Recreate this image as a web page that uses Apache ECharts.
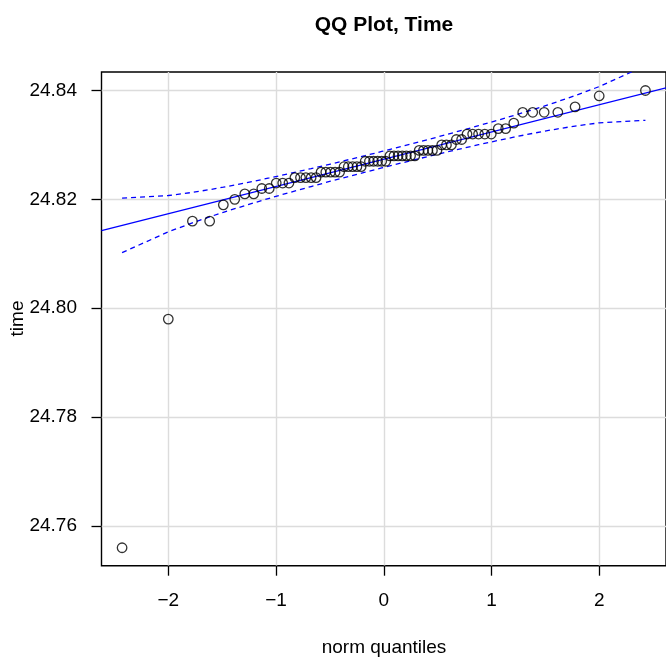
<!DOCTYPE html>
<html>
<head>
<meta charset="utf-8">
<script src="https://cdn.jsdelivr.net/npm/echarts@6/dist/echarts.min.js"></script>
<style>
  html, body { margin: 0; padding: 0; background: #fff; }
  #chart { width: 666px; height: 657px; }
</style>
</head>
<body>
<div id="chart"></div>
<script>
// Theoretical normal quantiles for the 66 sorted observations
const normQuantiles = [
  -2.429, -2.000, -1.776, -1.616, -1.489, -1.383, -1.290, -1.207, -1.132, -1.063,
  -0.998, -0.938, -0.880, -0.825, -0.773, -0.723, -0.674, -0.628, -0.582, -0.538,
  -0.494, -0.452, -0.410, -0.369, -0.329, -0.289, -0.249, -0.210, -0.172, -0.133,
  -0.095, -0.057, -0.019, 0.019, 0.057, 0.095, 0.133, 0.172, 0.210, 0.249,
  0.289, 0.329, 0.369, 0.410, 0.452, 0.494, 0.538, 0.582, 0.628, 0.674,
  0.723, 0.773, 0.825, 0.880, 0.938, 0.998, 1.063, 1.132, 1.207, 1.290,
  1.383, 1.489, 1.616, 1.776, 2.000, 2.429
];

// Sorted observed times
const times = [
  24.756, 24.798, 24.816, 24.816, 24.819, 24.820, 24.821, 24.821, 24.822, 24.822,
  24.823, 24.823, 24.823, 24.824, 24.824, 24.824, 24.824, 24.824, 24.825, 24.825,
  24.825, 24.825, 24.825, 24.826, 24.826, 24.826, 24.826, 24.826, 24.827, 24.827,
  24.827, 24.827, 24.827, 24.827, 24.828, 24.828, 24.828, 24.828, 24.828, 24.828,
  24.828, 24.829, 24.829, 24.829, 24.829, 24.829, 24.830, 24.830, 24.830, 24.831,
  24.831, 24.832, 24.832, 24.832, 24.832, 24.832, 24.833, 24.833, 24.834, 24.836,
  24.836, 24.836, 24.836, 24.837, 24.839, 24.840
];

// Reference line through the quartiles (endpoints at the x-range limits)
const fitX = [-2.62, 2.62];
const fitY = [24.81427, 24.84049];

// Pointwise confidence envelope
const envX = [
  -2.429, -2.000, -1.776, -1.616, -1.489, -1.383, -1.207, -1.063, -0.880, -0.674,
  -0.494, -0.329, -0.172, -0.019, 0.019, 0.172, 0.329, 0.494, 0.674, 0.880,
  1.063, 1.207, 1.383, 1.489, 1.616, 1.776, 2.000, 2.429
];
const envUpper = [
  24.82024, 24.82071, 24.82128, 24.82179, 24.82224, 24.82263, 24.82333, 24.82393, 24.82472, 24.82565,
  24.82649, 24.82728, 24.82804, 24.82880, 24.82899, 24.82976, 24.83057, 24.83143, 24.83240, 24.83353,
  24.83457, 24.83541, 24.83648, 24.83714, 24.83797, 24.83907, 24.84072, 24.84455
];
const envLower = [
  24.81021, 24.81404, 24.81569, 24.81679, 24.81762, 24.81828, 24.81935, 24.82019, 24.82123, 24.82236,
  24.82333, 24.82419, 24.82500, 24.82577, 24.82596, 24.82672, 24.82748, 24.82827, 24.82911, 24.83004,
  24.83083, 24.83143, 24.83212, 24.83252, 24.83296, 24.83347, 24.83406, 24.83452
];

// Axis ticks
const xTicks = [-2, -1, 0, 1, 2];
const yTicks = [24.76, 24.78, 24.80, 24.82, 24.84];

const FONT = '"Liberation Sans", Arial, Helvetica, sans-serif';
const zip = (a, b) => a.map((v, i) => [v, b[i]]);
const minus = v => (v < 0 ? '\u2212' + Math.abs(v) : String(v));

const chart = echarts.init(document.getElementById('chart'), null, { renderer: 'canvas' });

chart.setOption({
  animation: false,
  backgroundColor: '#ffffff',
  grid: {
    left: 101.5, right: -1, top: 72, bottom: 91.3,
    show: true, borderColor: '#000', borderWidth: 1.4, backgroundColor: 'transparent'
  },
  xAxis: {
    type: 'value', min: -2.62, max: 2.62, position: 'bottom',
    axisLine: { show: false, onZero: false },
    axisTick: { show: true, inside: false, length: 10, customValues: xTicks,
      lineStyle: { color: '#000', width: 1.3 } },
    axisLabel: { customValues: xTicks, margin: 26, color: '#000',
      fontFamily: FONT, fontSize: 19, formatter: minus },
    splitLine: { show: true, lineStyle: { color: '#dcdcdc', width: 1.4 } }
  },
  yAxis: {
    type: 'value', min: 24.7527, max: 24.8434, position: 'left',
    axisLine: { show: false, onZero: false },
    axisTick: { show: true, inside: false, length: 10, customValues: yTicks,
      lineStyle: { color: '#000', width: 1.3 } },
    axisLabel: { customValues: yTicks, margin: 24.5, color: '#000',
      fontFamily: FONT, fontSize: 19, formatter: v => v.toFixed(2) },
    splitLine: { show: true, lineStyle: { color: '#dcdcdc', width: 1.4 } }
  },
  graphic: [
    { type: 'text', x: 384, y: 25, style: { text: 'QQ Plot, Time', fill: '#000',
      font: 'bold 21px ' + FONT, textAlign: 'center', textVerticalAlign: 'middle' } },
    { type: 'text', x: 384, y: 648, style: { text: 'norm quantiles', fill: '#000',
      font: '19px ' + FONT, textAlign: 'center', textVerticalAlign: 'middle' } },
    { type: 'text', x: 18, y: 318.5, rotation: Math.PI / 2, style: { text: 'time', fill: '#000',
      font: '19px ' + FONT, textAlign: 'center', textVerticalAlign: 'middle' } }
  ],
  series: [
    {
      type: 'line', data: zip(fitX, fitY), symbol: 'none', clip: true,
      lineStyle: { color: '#0000ff', width: 1.3 }, z: 3
    },
    {
      type: 'line', data: zip(envX, envUpper), symbol: 'none', clip: true,
      lineStyle: { color: '#0000ff', width: 1.3, type: [5, 4] }, z: 3
    },
    {
      type: 'line', data: zip(envX, envLower), symbol: 'none', clip: true,
      lineStyle: { color: '#0000ff', width: 1.3, type: [5, 4] }, z: 3
    },
    {
      type: 'scatter', data: zip(normQuantiles, times), symbol: 'circle', symbolSize: 9.5,
      itemStyle: { color: 'rgba(0,0,0,0)', borderColor: '#000', borderWidth: 1.3 }, z: 4
    }
  ]
});
</script>
</body>
</html>
